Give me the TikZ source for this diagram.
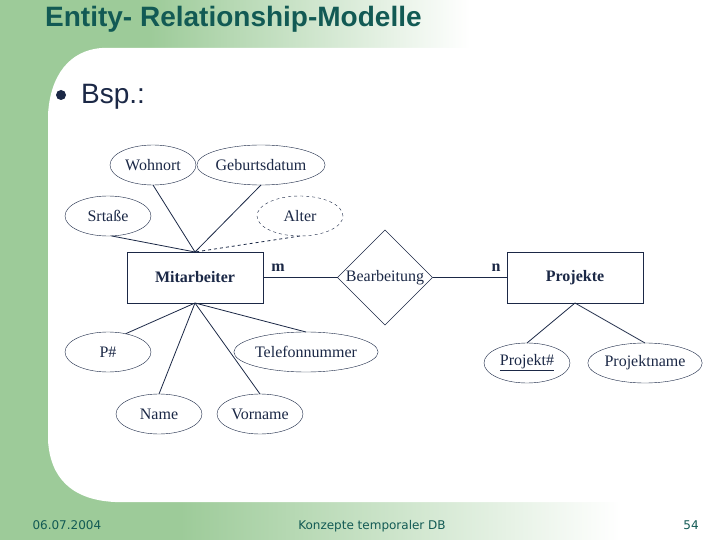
\documentclass[tikz,border=0pt]{standalone}
\usepackage{fontspec}
\setmainfont{Liberation Serif}
\newfontfamily\titlefont{Liberation Sans}
\newfontfamily\footfont{DejaVu Sans}
\usetikzlibrary{shapes.geometric}
\definecolor{bggreen}{RGB}{157,203,153}
\definecolor{titleteal}{RGB}{18,90,84}
\definecolor{ink}{RGB}{27,40,70}
\begin{document}
\begin{tikzpicture}[x=1pt,y=-1pt,
	attr/.style={draw=ink,ellipse,inner sep=0pt,outer sep=0pt,minimum height=40,text=ink,font=\fontsize{16}{16}\selectfont},
	entity/.style={draw=ink,rectangle,inner sep=0pt,outer sep=0pt,minimum width=136,minimum height=51,text=ink,font=\fontsize{16}{16}\selectfont\bfseries},
	relship/.style={draw=ink,diamond,aspect=1,inner sep=0pt,outer sep=0pt,minimum size=95,text=ink,font=\fontsize{16}{16}\selectfont},
	card/.style={text=ink,font=\fontsize{16}{16}\selectfont\bfseries,inner sep=1pt},
	conn/.style={draw=ink,line width=0.8pt},
	foot/.style={text=titleteal,font=\footfont\fontsize{12}{12}\selectfont,anchor=base}]
	\useasboundingbox (0,0) rectangle (720,540);
	% slide background
	\fill[bggreen] (0,0) rectangle (720,540);
	\shade[left color=bggreen,right color=white] (150,0) rectangle (470,48);
	\fill[white] (469,0) rectangle (720,48);
	\shade[left color=bggreen,right color=white] (180,502) rectangle (620,540);
	\fill[white] (619,502) rectangle (720,540);
	\fill[white] (720,48) -- (102,48) .. controls (70,50) and (50,75) .. (48,115)
		-- (48,440) .. controls (50,478) and (72,500) .. (115,502) -- (720,502) -- cycle;
	% title and bullet
	\node[anchor=base west,text=titleteal,font=\titlefont\fontsize{28}{28}\selectfont\bfseries,inner sep=0pt] (title) at (45,27) {Entity- Relationship-Modelle};
	\fill[ink] (61,95) circle (5);
	\node[anchor=base west,text=ink,font=\titlefont\fontsize{28}{28}\selectfont,inner sep=0pt] (bsp) at (81,104) {Bsp.:};
	% entities and relationship
	\node[entity] (mit) at (195,277.5) {Mitarbeiter};
	\node[relship] (bear) at (385,277.5) {Bearbeitung};
	\node[entity] (proj) at (575,277.5) {Projekte};
	% attributes
	\node[attr,minimum width=86] (wohn) at (153,165) {Wohnort};
	\node[attr,minimum width=110] (geb) at (261,165) {Geburtsdatum};
	\node[attr,minimum width=86] (srt) at (108,216) {Srtaße};
	\node[attr,minimum width=86,dashed] (alter) at (300,216) {Alter};
	\node[attr,minimum width=86] (pnr) at (108,352) {P\#};
	\node[attr,minimum width=110] (tel) at (306,352) {Telefonnummer};
	\node[attr,minimum width=86] (name) at (159,414) {Name};
	\node[attr,minimum width=86] (vor) at (260,414) {Vorname};
	\node[attr,minimum width=86] (pid) at (527,363) {\underline{Projekt\#}};
	\node[attr,minimum width=88] (pname) at (645,363) {Projektname};
	% connectors
	\draw[conn] (srt.-80) -- (mit.north);
	\draw[conn] (wohn.south) -- (mit.north);
	\draw[conn] (geb.south) -- (mit.north);
	\draw[conn,dashed] (alter.south) -- (mit.north);
	\draw[conn] (pnr.46) -- (mit.south);
	\draw[conn] (name.north) -- (mit.south);
	\draw[conn] (vor.north) -- (mit.south);
	\draw[conn] (tel.north) -- (mit.south);
	\draw[conn] (mit.east) -- (bear.west);
	\draw[conn] (bear.east) -- (proj.west);
	\draw[conn] (pid.north) -- (proj.south);
	\draw[conn] (pname.north) -- (proj.south);
	\node[card] (m) at (278,268) {m};
	\node[card] (n) at (496,268) {n};
	% footer
	\node[foot,anchor=base west] (date) at (29,529) {06.07.2004};
	\node[foot] (course) at (372,529) {Konzepte temporaler DB};
	\node[foot] (page) at (691,529) {54};
\end{tikzpicture}
\end{document}
